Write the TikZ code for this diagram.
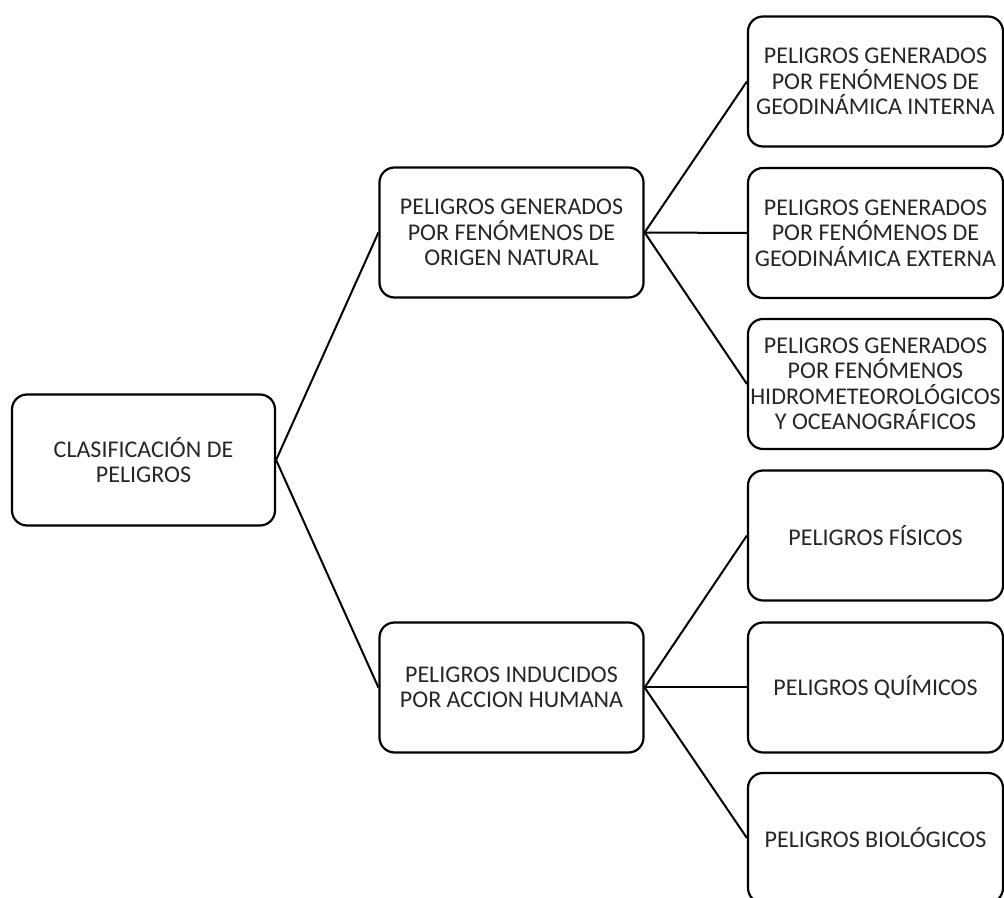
\documentclass[tikz,border=0pt]{standalone}
\usepackage{fontspec}
\setmainfont{Carlito}
\begin{document}
\begin{tikzpicture}[x=1pt,y=1pt,
  box/.style={draw=black, line width=2.2pt, rounded corners=15pt, fill=white,
    align=center, inner sep=0pt, text=black!85,
    font=\fontsize{24}{25.5}\selectfont},
  rootbox/.style={box, minimum width=263pt, minimum height=131pt},
  midbox/.style={box, minimum width=264pt, minimum height=130pt},
  leafbox/.style={box, minimum width=255pt, minimum height=130pt},
  link/.style={draw=black, line width=2pt}]
  \clip (0,0) rectangle (1004,897);
  \useasboundingbox (0,0) rectangle (1004,897);

  % root
  \node[rootbox] (root) at (143.5,437) {CLASIFICACIÓN DE\\PELIGROS};

  % second level
  \node[midbox] (nat) at (511.5,664.5) {PELIGROS GENERADOS\\POR FENÓMENOS DE\\ORIGEN NATURAL};
  \node[midbox] (hum) at (511.5,209.5) {PELIGROS INDUCIDOS\\POR ACCION HUMANA};

  % leaves
  \node[leafbox] (l1) at (875.5,815.5) {PELIGROS GENERADOS\\POR FENÓMENOS DE\\GEODINÁMICA INTERNA};
  \node[leafbox] (l2) at (875.5,664) {PELIGROS GENERADOS\\POR FENÓMENOS DE\\GEODINÁMICA EXTERNA};
  \node[leafbox] (l3) at (875.5,513) {PELIGROS GENERADOS\\POR FENÓMENOS\\HIDROMETEOROLÓGICOS\\Y OCEANOGRÁFICOS};
  \node[leafbox] (l4) at (875.5,361.5) {PELIGROS FÍSICOS};
  \node[leafbox] (l5) at (875.5,209.5) {PELIGROS QUÍMICOS};
  \node[leafbox] (l6) at (875.5,59) {PELIGROS BIOLÓGICOS};

  % connectors
  \draw[link] (root.east) -- (nat.west);
  \draw[link] (root.east) -- (hum.west);
  \draw[link] (nat.east) -- (l1.west);
  \draw[link] (nat.east) -- (l2.west);
  \draw[link] (nat.east) -- (l3.west);
  \draw[link] (hum.east) -- (l4.west);
  \draw[link] (hum.east) -- (l5.west);
  \draw[link] (hum.east) -- (l6.west);
\end{tikzpicture}
\end{document}
